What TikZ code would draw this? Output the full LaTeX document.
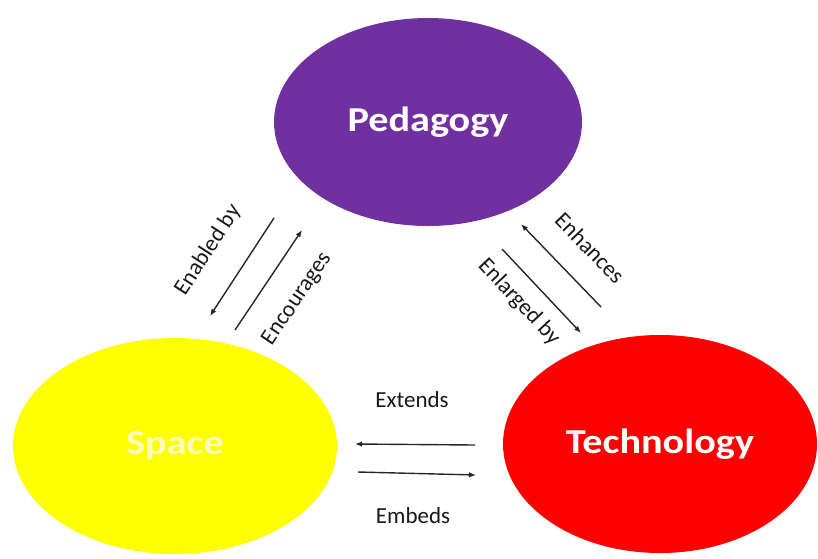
\documentclass[tikz,border=0pt]{standalone}
\usepackage{fontspec}
\setmainfont{Carlito}
\newfontfamily\topicfont[FakeStretch=1.15]{Carlito}
\usetikzlibrary{shapes.geometric, arrows.meta, positioning}

\definecolor{pedpurple}{HTML}{7030A0}
\definecolor{spcyellow}{HTML}{FFFF00}
\definecolor{techred}{HTML}{FF0000}

\begin{document}
\begin{tikzpicture}[x=1pt, y=-1pt]
    \tikzset{
        topic/.style={
            ellipse,
            inner sep=0pt,
            text=white,
            font=\topicfont\fontsize{35}{40}\selectfont\bfseries
        },
        relation/.style={
            inner sep=1pt,
            text=black!90,
            font=\fontsize{23}{25}\selectfont
        },
        link/.style={
            draw=black!85,
            line width=1.4pt,
            -{Latex[length=7pt,width=5.5pt]}
        }
    }

    \useasboundingbox (0,0) rectangle (818,558);

    \node[topic, fill=pedpurple, minimum width=308pt, minimum height=208pt] (pedagogy) at (428,122) {Pedagogy};
    \node[topic, fill=spcyellow, text=yellow!25!white, minimum width=324pt, minimum height=216pt] (space) at (175,446) {Space};
    \node[topic, fill=techred, minimum width=314pt, minimum height=218pt] (technology) at (660,444) {Technology};

    \coordinate (enabled-a) at (274,218);
    \coordinate (enabled-b) at (210,316);
    \coordinate (encour-a) at (235,330);
    \coordinate (encour-b) at (302,230);
    \coordinate (enhance-a) at (601,307);
    \coordinate (enhance-b) at (521,224);
    \coordinate (enlarge-a) at (502,249);
    \coordinate (enlarge-b) at (581,333);
    \coordinate (extend-a) at (475,445);
    \coordinate (extend-b) at (355,444);
    \coordinate (embed-a) at (358,472);
    \coordinate (embed-b) at (476,475);

    \draw[link] (enabled-a) -- (enabled-b);
    \draw[link] (encour-a) -- (encour-b);
    \draw[link] (enhance-a) -- (enhance-b);
    \draw[link] (enlarge-a) -- (enlarge-b);
    \draw[link] (extend-a) -- (extend-b);
    \draw[link] (embed-a) -- (embed-b);

    \node[relation, rotate=57] (enabledlabel) at (208,250) {Enabled by};
    \node[relation, rotate=56] (encourlabel) at (297,299) {Encourages};
    \node[relation, rotate=-46] (enhancelabel) at (590,248) {Enhances};
    \node[relation, rotate=-47] (enlargelabel) at (519,302) {Enlarged by};
    \node[relation] (extendlabel) at (412,400) {Extends};
    \node[relation] (embedlabel) at (413,516) {Embeds};

\end{tikzpicture}
\end{document}
